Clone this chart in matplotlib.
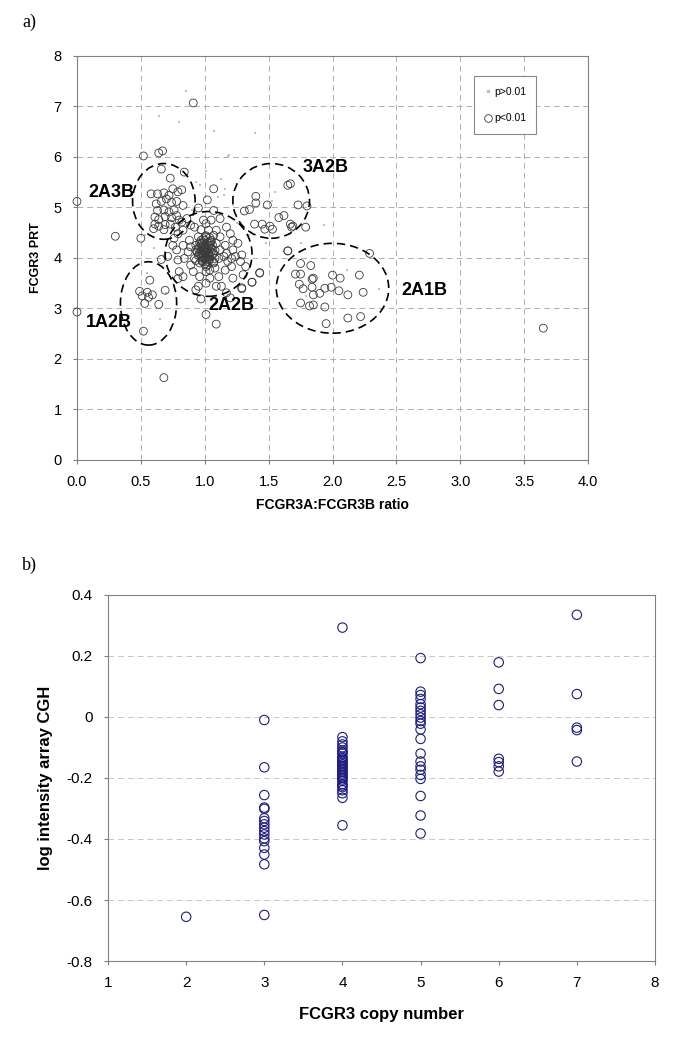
import matplotlib.pyplot as plt
from matplotlib.patches import Ellipse
from matplotlib.lines import Line2D

plt.rcParams['font.family'] = ['Liberation Sans', 'DejaVu Sans']

# ---------------- panel a: FCGR3A:FCGR3B ratio vs FCGR3 PRT ----------------
# significant calls (p<0.01), grouped roughly by cluster
pts_2a3b = [(0.58, 5.27), (0.63, 5.27), (0.68, 5.29), (0.72, 5.24), (0.75, 5.37), (0.79, 5.31),
            (0.82, 5.35), (0.62, 5.07), (0.66, 5.12), (0.70, 5.17), (0.74, 5.10), (0.78, 5.12),
            (0.83, 5.04), (0.63, 4.94), (0.68, 4.95), (0.72, 4.91), (0.76, 4.95), (0.61, 4.81),
            (0.64, 4.76), (0.69, 4.82), (0.74, 4.80), (0.78, 4.84), (0.80, 4.75), (0.61, 4.67),
            (0.64, 4.63), (0.69, 4.66), (0.73, 4.67), (0.77, 4.61), (0.82, 4.71), (0.60, 4.58),
            (0.68, 4.56), (0.66, 5.76), (0.73, 5.58), (0.84, 5.70)]
pts_3a2b = [(1.65, 5.44), (1.67, 5.47), (1.40, 5.22), (1.40, 5.09), (1.49, 5.05), (1.31, 4.93),
            (1.35, 4.96), (1.73, 5.05), (1.80, 5.03), (1.39, 4.67), (1.45, 4.67), (1.51, 4.63),
            (1.53, 4.57), (1.47, 4.57), (1.58, 4.80), (1.62, 4.84), (1.67, 4.67), (1.68, 4.61),
            (1.79, 4.61), (1.69, 4.63)]
pts_2a1b = [(1.65, 4.14), (2.29, 4.09), (1.75, 3.89), (1.83, 3.85), (1.71, 3.68), (1.75, 3.68),
            (1.84, 3.58), (1.85, 3.60), (2.00, 3.66), (2.06, 3.60), (2.21, 3.66), (1.74, 3.48),
            (1.77, 3.39), (1.84, 3.42), (1.94, 3.40), (1.90, 3.30), (1.99, 3.42), (2.05, 3.35),
            (2.12, 3.27), (2.24, 3.32), (1.85, 3.27), (1.75, 3.11), (1.82, 3.05), (1.85, 3.07),
            (1.94, 3.03), (2.12, 2.81), (2.22, 2.84), (1.95, 2.70), (1.43, 3.71), (1.37, 3.52)]
pts_1a2b = [(0.57, 3.56), (0.49, 3.34), (0.55, 3.32), (0.51, 3.25), (0.59, 3.27), (0.53, 3.10),
            (0.64, 3.08), (0.69, 3.36), (0.56, 3.22), (0.52, 2.55)]
pts_2a2b = [(0.95, 4.99), (1.02, 5.15), (1.07, 5.37), (1.07, 4.94), (0.86, 4.78), (0.89, 4.65),
            (0.92, 4.61), (0.83, 4.55), (0.79, 4.48), (0.76, 4.39), (0.75, 4.25), (0.78, 4.16),
            (0.71, 4.03), (0.66, 3.97), (0.79, 3.96), (0.80, 3.73), (0.79, 3.59), (0.83, 3.63),
            (0.93, 3.37), (0.95, 3.44), (1.01, 3.50), (1.09, 3.44), (1.13, 3.44), (1.17, 3.31),
            (1.20, 3.21), (1.22, 3.60), (1.29, 3.41), (1.30, 3.67), (1.32, 3.83),
            (1.28, 3.93), (1.29, 4.06), (1.22, 4.16), (1.21, 3.83), (1.26, 4.29), (1.22, 4.35),
            (1.20, 4.48), (1.17, 4.61), (1.12, 4.78), (1.05, 4.75), (0.99, 4.75), (1.01, 4.68),
            (0.97, 4.56), (1.03, 4.55), (1.09, 4.55), (0.95, 4.42), (0.88, 4.35), (0.83, 4.25),
            (0.87, 4.12), (0.84, 3.99), (0.89, 3.86), (0.91, 3.73), (0.96, 3.63), (1.04, 3.60),
            (1.11, 3.63), (1.16, 3.76), (1.18, 3.93), (1.17, 4.09), (1.16, 4.25), (1.12, 4.42),
            (1.07, 4.45), (1.01, 4.42), (0.97, 4.29), (0.93, 4.16), (0.92, 3.99), (0.96, 3.90),
            (1.01, 3.83), (1.07, 3.90), (1.11, 3.99), (1.12, 4.16), (1.09, 4.29), (1.05, 4.35),
            (1.00, 4.22), (0.96, 4.09), (0.99, 3.99), (1.03, 4.03), (1.07, 4.09), (1.05, 4.18),
            (1.01, 4.12), (0.98, 4.19), (0.99, 4.06), (1.03, 3.93), (1.04, 4.29), (1.00, 4.35),
            (1.08, 3.99), (0.98, 3.93), (1.04, 3.76), (1.01, 3.73), (1.08, 3.80), (0.93, 4.25),
            (0.89, 4.22), (1.15, 4.03), (1.21, 3.99), (1.24, 4.03), (1.01, 2.88), (1.09, 2.69),
            (0.97, 3.19)]
pts_core = [(0.95, 4.05), (0.97, 4.15), (0.99, 4.25), (1.01, 4.00), (1.03, 4.10), (1.05, 4.20),
            (0.98, 3.95), (1.00, 4.10), (1.02, 4.30), (1.04, 3.98), (0.96, 4.22), (1.06, 4.08),
            (1.00, 3.88), (0.94, 4.12), (1.08, 4.15), (0.99, 4.38), (1.02, 4.18), (0.97, 4.02),
            (1.05, 4.32), (1.01, 4.44), (0.93, 3.95), (1.07, 3.92), (1.00, 4.00), (0.98, 4.08),
            (1.03, 4.24), (1.04, 4.04), (0.96, 4.30), (1.01, 3.92), (1.06, 4.26), (0.99, 4.14),
            (1.02, 4.06), (0.95, 4.18), (1.00, 4.20), (1.03, 3.96), (0.97, 4.35), (1.05, 4.12),
            (1.01, 4.16), (0.98, 4.28), (1.02, 3.86), (1.04, 4.40)]
pts_other = [(0.91, 7.07), (0.52, 6.02), (0.64, 6.08), (0.67, 6.12), (0.00, 5.12), (0.30, 4.43),
             (0.50, 4.39), (0.00, 2.93), (0.68, 1.63), (1.65, 4.14), (3.65, 2.61), (1.29, 3.39),
             (1.43, 3.70), (1.37, 3.52)]

# non significant calls (p>0.01)
ns_x = [0.85, 0.64, 0.80, 1.07, 1.39, 1.19, 1.01, 1.13, 1.16, 1.18, 0.93, 0.96, 1.15, 1.53,
        0.53, 1.93, 1.51, 2.11, 2.36, 1.79, 0.90, 1.25, 1.35, 0.75, 1.55, 1.75, 0.60, 0.55,
        0.65, 0.70, 1.48, 1.10, 1.22]
ns_y = [7.31, 6.81, 6.69, 6.52, 6.47, 6.04, 5.73, 5.56, 5.37, 6.02, 5.50, 5.44, 5.24, 5.12,
        4.46, 4.65, 3.83, 3.76, 3.38, 3.25, 4.95, 4.70, 4.45, 4.60, 5.30, 4.30, 4.20, 3.70,
        2.80, 3.30, 4.30, 5.20, 5.05]

# genotype ellipses: label, centre, width, height, label position
ell_names = ['2A3B', '3A2B', '2A2B', '1A2B', '2A1B']
ell_centres = [(0.68, 5.12), (1.52, 5.13), (1.03, 4.08), (0.56, 3.10), (2.00, 3.40)]
ell_sizes = [(0.49, 1.50), (0.60, 1.48), (0.68, 1.68), (0.44, 1.65), (0.88, 1.78)]
ell_label_pos = [(0.27, 5.30), (1.95, 5.80), (1.21, 3.05), (0.25, 2.72), (2.72, 3.35)]

# ---------------- panel b: copy number vs array CGH ----------------
cgh_cn2 = [-0.655]
cgh_cn3 = [-0.010, -0.165, -0.256, -0.297, -0.301, -0.332, -0.341, -0.352, -0.363, -0.374,
           -0.385, -0.398, -0.407, -0.429, -0.451, -0.483, -0.649]
cgh_cn4 = [0.293, -0.066, -0.080, -0.090, -0.100, -0.110, -0.115, -0.120, -0.130, -0.135,
           -0.140, -0.145, -0.150, -0.155, -0.160, -0.165, -0.170, -0.175, -0.180, -0.185,
           -0.190, -0.195, -0.200, -0.205, -0.210, -0.220, -0.225, -0.230, -0.240, -0.250,
           -0.265, -0.355]
cgh_cn5 = [0.193, 0.083, 0.072, 0.059, 0.042, 0.031, 0.020, 0.009, -0.002, -0.013, -0.022,
           -0.041, -0.072, -0.120, -0.146, -0.162, -0.173, -0.190, -0.203, -0.259, -0.323,
           -0.382]
cgh_cn6 = [0.179, 0.092, 0.039, -0.137, -0.148, -0.162, -0.179]
cgh_cn7 = [0.335, 0.075, -0.035, -0.043, -0.146]

fig = plt.figure(figsize=(6.82, 10.48), dpi=100)

# ---- panel a ----
ax = fig.add_axes([0.1129, 0.5611, 0.7493, 0.3855])
sig = pts_2a3b + pts_3a2b + pts_2a1b + pts_1a2b + pts_2a2b + pts_core + pts_other
ax.scatter(ns_x, ns_y, s=4, marker='s', color='#c0c0c0', linewidths=0, zorder=2)
ax.scatter([p[0] for p in sig], [p[1] for p in sig], s=32, facecolors='none',
           edgecolors='#3a3a3a', linewidths=0.6, zorder=3, clip_on=False)
for name, c, (w, h), lp in zip(ell_names, ell_centres, ell_sizes, ell_label_pos):
    ax.add_patch(Ellipse(c, w, h, fill=False, ec='black', lw=1.2, ls=(0, (5, 3)), zorder=4))
    ax.text(lp[0], lp[1], name, fontsize=13, fontweight='bold', ha='center', va='center', zorder=5)
ax.set_xlim(0, 4)
ax.set_ylim(0, 8)
ax.set_xticks([0, 0.5, 1, 1.5, 2, 2.5, 3, 3.5, 4])
ax.set_xticklabels(['0.0', '0.5', '1.0', '1.5', '2.0', '2.5', '3.0', '3.5', '4.0'])
ax.set_yticks(range(0, 9))
ax.grid(True, color='#b0b0b0', ls=(0, (6, 4)), lw=0.7)
ax.set_axisbelow(True)
for s in ax.spines.values():
    s.set_color('#808080')
ax.tick_params(direction='out', length=3, color='#808080', labelsize=10.5, pad=8)
ax.set_xlabel('FCGR3A:FCGR3B ratio', fontsize=10, fontweight='bold', labelpad=6)
ax.set_ylabel('FCGR3 PRT', fontsize=9, fontweight='bold', labelpad=8)
handles = [Line2D([], [], ls='none', marker='s', ms=1.8, color='#c0c0c0'),
           Line2D([], [], ls='none', marker='o', ms=5.5, mfc='none', mec='#3a3a3a', mew=0.6)]
leg = ax.legend(handles, ['p>0.01', 'p<0.01'], loc='upper left', bbox_to_anchor=(0.777, 0.950),
                borderaxespad=0, fontsize=7.5, labelspacing=1.6, handlelength=0.6,
                handletextpad=0.3, borderpad=1.0, fancybox=False, framealpha=1)
leg.get_frame().set_edgecolor('#888888')
leg.get_frame().set_linewidth(0.8)

# ---- panel b ----
bx = fig.add_axes([0.1584, 0.0830, 0.8020, 0.3493])
navy = '#1c1c80'
for cn, vals in zip([2, 3, 4, 5, 6, 7], [cgh_cn2, cgh_cn3, cgh_cn4, cgh_cn5, cgh_cn6, cgh_cn7]):
    bx.scatter([cn] * len(vals), vals, s=46, facecolors='none', edgecolors=navy, linewidths=0.8, zorder=3)
bx.set_xlim(1, 8)
bx.set_ylim(-0.8, 0.4)
bx.set_xticks(range(1, 9))
bx.set_yticks([-0.8, -0.6, -0.4, -0.2, 0, 0.2, 0.4])
bx.set_yticklabels(['-0.8', '-0.6', '-0.4', '-0.2', '0', '0.2', '0.4'])
bx.yaxis.grid(True, color='#c8c8c8', ls=(0, (6, 4)), lw=0.7)
bx.set_axisbelow(True)
for s in bx.spines.values():
    s.set_color('#808080')
bx.tick_params(direction='out', length=3, color='#808080', labelsize=11, pad=8)
bx.set_xlabel('FCGR3 copy number', fontsize=12, fontweight='bold', labelpad=12)
bx.set_ylabel('log intensity array CGH', fontsize=12, fontweight='bold', labelpad=10)

fig.text(22 / 682, 1 - 22 / 1048, 'a)', family=['Liberation Serif', 'DejaVu Serif'], fontsize=13, va='center')
fig.text(22 / 682, 1 - 565 / 1048, 'b)', family=['Liberation Serif', 'DejaVu Serif'], fontsize=13, va='center')

fig.savefig('out.png', dpi=100)
